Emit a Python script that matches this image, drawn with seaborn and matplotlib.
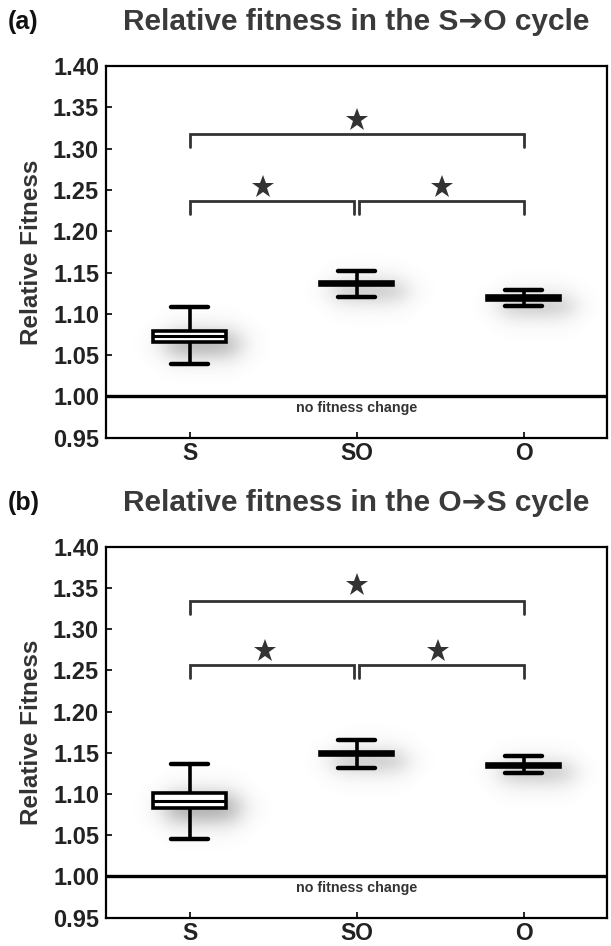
import numpy as np
import pandas as pd
import matplotlib
matplotlib.use('Agg')
import matplotlib.pyplot as plt
import seaborn as sns

groups = ['S', 'SO', 'O']

# five-number summaries (whisker low, q1, median, q3, whisker high)
a_S = [1.039, 1.066, 1.073, 1.079, 1.108]
a_SO = [1.120, 1.135, 1.137, 1.139, 1.152]
a_O = [1.110, 1.117, 1.119, 1.121, 1.129]
b_S = [1.045, 1.083, 1.092, 1.101, 1.136]
b_SO = [1.132, 1.147, 1.149, 1.151, 1.165]
b_O = [1.125, 1.133, 1.135, 1.137, 1.146]

titles = ['Relative fitness in the S\u2794O cycle', 'Relative fitness in the O\u2794S cycle']
panel_tags = ['(a)', '(b)']

# significance brackets: (from, to, height) and stars (x, y)
a_brackets = [(0, 2, 1.318), (0, 0.985, 1.237), (1.015, 2, 1.237)]
a_stars = [(1.0, 1.335), (0.44, 1.254), (1.51, 1.254)]
b_brackets = [(0, 2, 1.334), (0, 0.985, 1.257), (1.015, 2, 1.257)]
b_stars = [(1.0, 1.353), (0.45, 1.274), (1.49, 1.274)]

sns.set_style('white')
plt.rcParams['font.family'] = ['Liberation Sans', 'DejaVu Sans']

fig = plt.figure(figsize=(6.11, 9.46), dpi=100)

panels = [
    dict(data=[a_S, a_SO, a_O], brackets=a_brackets, stars=a_stars,
         rect=[0.1735, 0.5373, 0.820, 0.3929], title_y=0.977),
    dict(data=[b_S, b_SO, b_O], brackets=b_brackets, stars=b_stars,
         rect=[0.1735, 0.0299, 0.820, 0.3922], title_y=0.468),
]

box_w = 0.44

def soft_shadow(ax, xc, lo, hi):
    # blurred grey shadow behind a box, offset right and down
    xs = np.linspace(-0.5, 2.5, 600)
    ys = np.linspace(0.95, 1.40, 600)
    X, Y = np.meshgrid(xs, ys)
    x0, x1 = xc - box_w / 2 + 0.08, xc + box_w / 2 + 0.07
    y0, y1 = lo - 0.014, hi - 0.004
    sx, sy = 0.09, 0.016
    fx = 0.5 * (np.tanh((X - x0) / sx) - np.tanh((X - x1) / sx))
    fy = 0.5 * (np.tanh((Y - y0) / sy) - np.tanh((Y - y1) / sy))
    alpha = 0.6 * fx * fy
    img = np.zeros(X.shape + (4,))
    img[..., :3] = 0.3
    img[..., 3] = alpha
    ax.imshow(img, extent=(-0.5, 2.5, 0.95, 1.40), origin='lower',
              aspect='auto', zorder=0.5, interpolation='bilinear')

for i, p in enumerate(panels):
    ax = fig.add_axes(p['rect'])
    df = pd.DataFrame({
        'group': np.repeat(groups, 5),
        'value': np.concatenate(p['data']),
    })
    for j, vals in enumerate(p['data']):
        soft_shadow(ax, j, vals[1], vals[3])
    sns.boxplot(data=df, x='group', y='value', order=groups, whis=(0, 100),
                width=box_w, color='white', linecolor='black', linewidth=2.6,
                showfliers=False, ax=ax,
                medianprops=dict(color='black', linewidth=2.2, zorder=5),
                capprops=dict(linewidth=3.2))

    ax.axhline(1.0, color='black', linewidth=2.4, zorder=4)
    ax.text(1.0, 0.986, 'no fitness change', ha='center', va='center',
            fontsize=10.3, fontweight='bold', color='#333333')

    for x0, x1, h in p['brackets']:
        ax.plot([x0, x0, x1, x1], [h - 0.016, h, h, h - 0.016],
                color='#333333', linewidth=2.0, solid_joinstyle='miter')
    for sx, sy in p['stars']:
        ax.plot(sx, sy, marker='*', markersize=17, color='#333333',
                markeredgewidth=0)

    ax.set_xlim(-0.5, 2.5)
    ax.set_ylim(0.95, 1.40)
    ax.set_yticks(np.arange(0.95, 1.4001, 0.05))
    ax.set_yticklabels([f'{v:.2f}' for v in np.arange(0.95, 1.4001, 0.05)])
    ax.set_xlabel('')
    ax.set_ylabel('Relative Fitness', fontsize=17.5, fontweight='bold',
                  color='#333333', labelpad=7)
    ax.tick_params(axis='both', direction='in', length=4, width=1.2,
                   labelsize=17, colors='black', left=True, bottom=True)
    ax.tick_params(axis='x', pad=3, labelsize=16.5)
    ax.tick_params(axis='y', pad=5)
    for lab in ax.get_xticklabels() + ax.get_yticklabels():
        lab.set_fontweight('bold')
        lab.set_color('#222222')
    for s in ax.spines.values():
        s.set_color('black')
        s.set_linewidth(1.6)

    fig.text(0.5826, p['title_y'], titles[i], ha='center', va='center',
             fontsize=21.5, fontweight='bold', color='#3a3a3a')
    fig.text(0.012, p['title_y'], panel_tags[i], ha='left', va='center',
             fontsize=18, fontweight='bold', color='#111111')

fig.savefig('out.png', dpi=100)
